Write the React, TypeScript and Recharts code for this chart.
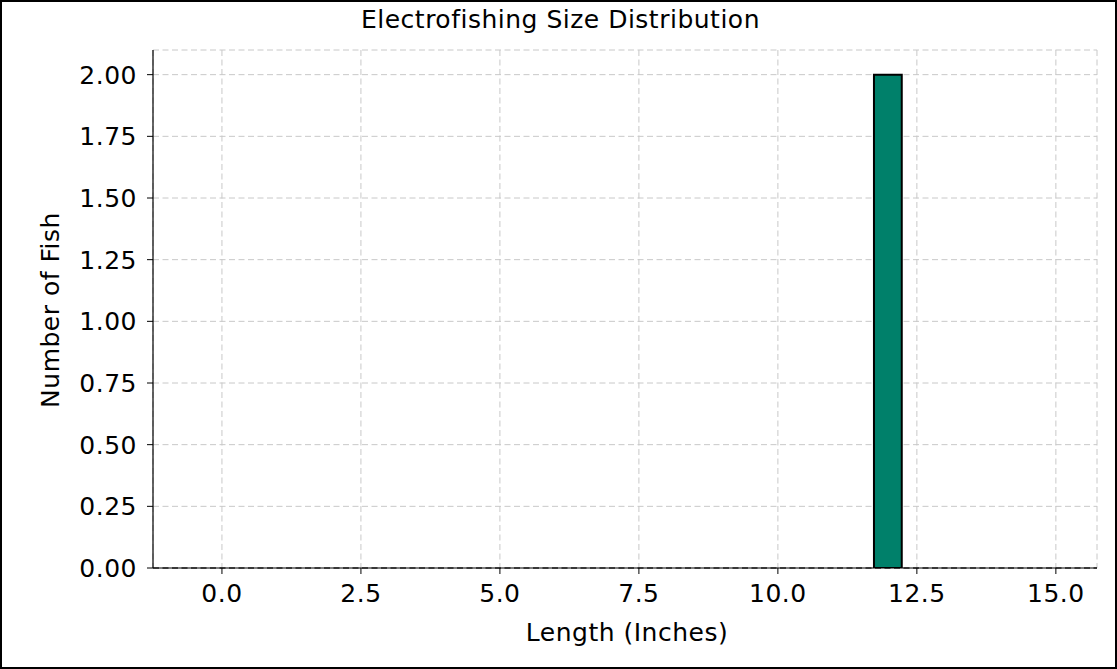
import { BarChart, Bar, XAxis, YAxis, CartesianGrid, ReferenceLine } from "recharts"

// histogram bins (inches) and fish counts
const binCenters = [11.98]
const fishCounts = [2]
const binWidth = 0.5

const xTicks = [0, 2.5, 5, 7.5, 10, 12.5, 15]
const yTicks = [0, 0.25, 0.5, 0.75, 1, 1.25, 1.5, 1.75, 2]

const data = binCenters.map((center, i) => ({ length: center, count: fishCounts[i] }))

const W = 1117
const H = 669
const FONT = "'DejaVu Sans', Verdana, sans-serif"
const tickStyle = { fill: "#000", fontSize: 25, fontFamily: FONT, letterSpacing: "0.5px" }

export default function App() {
  // plot area: x -1.24..15.74 maps to 153..1097, so one inch ~ 55.6px
  const barPx = binWidth * ((1097 - 153) / (15.74 + 1.24))

  return (
    <div
      style={{
        position: "absolute",
        left: 0,
        top: 0,
        width: W,
        height: H,
        boxSizing: "border-box",
        border: "2px solid #000",
        background: "#fff",
        fontFamily: FONT,
        letterSpacing: "0.5px",
      }}
    >
      <div style={{ position: "absolute", left: -2, top: -2 }}>
        <BarChart width={W} height={H} data={data} margin={{ top: 50, right: 20, bottom: 0, left: 0 }}>
          <CartesianGrid stroke="#c8c8c8" strokeDasharray="6 3.5" ticks={xTicks} />
          <XAxis
            dataKey="length"
            type="number"
            domain={[-1.24, 15.74]}
            ticks={xTicks}
            allowDataOverflow
            tickFormatter={(v: number) => v.toFixed(1)}
            height={101}
            tickSize={6}
            tickMargin={10}
            axisLine={{ stroke: "#000", strokeWidth: 1.2 }}
            tickLine={{ stroke: "#000" }}
            tick={tickStyle}
          />
          <YAxis
            type="number"
            domain={[0, 2.1]}
            ticks={yTicks}
            allowDataOverflow
            tickFormatter={(v: number) => v.toFixed(2)}
            width={153}
            tickSize={6}
            tickMargin={10}
            axisLine={{ stroke: "#000", strokeWidth: 1.2 }}
            tickLine={{ stroke: "#000" }}
            tick={tickStyle}
          />
          <ReferenceLine y={0} stroke="#000" strokeDasharray="6 3.5" />
          <Bar
            dataKey="count"
            fill="#00806a"
            stroke="#000"
            strokeWidth={2}
            barSize={barPx}
            isAnimationActive={false}
          />
        </BarChart>
      </div>
      <div
        style={{
          position: "absolute",
          left: 0,
          width: W,
          top: 3,
          textAlign: "center",
          fontSize: 25,
          lineHeight: "30px",
        }}
      >
        Electrofishing Size Distribution
      </div>
      <div
        style={{
          position: "absolute",
          left: 153,
          width: 944,
          top: 616,
          textAlign: "center",
          fontSize: 25,
          lineHeight: "30px",
        }}
      >
        Length (Inches)
      </div>
      <div
        style={{
          position: "absolute",
          left: 49 - 200,
          top: 308 - 15,
          width: 400,
          textAlign: "center",
          fontSize: 25,
          lineHeight: "30px",
          transform: "rotate(-90deg)",
        }}
      >
        Number of Fish
      </div>
    </div>
  )
}
